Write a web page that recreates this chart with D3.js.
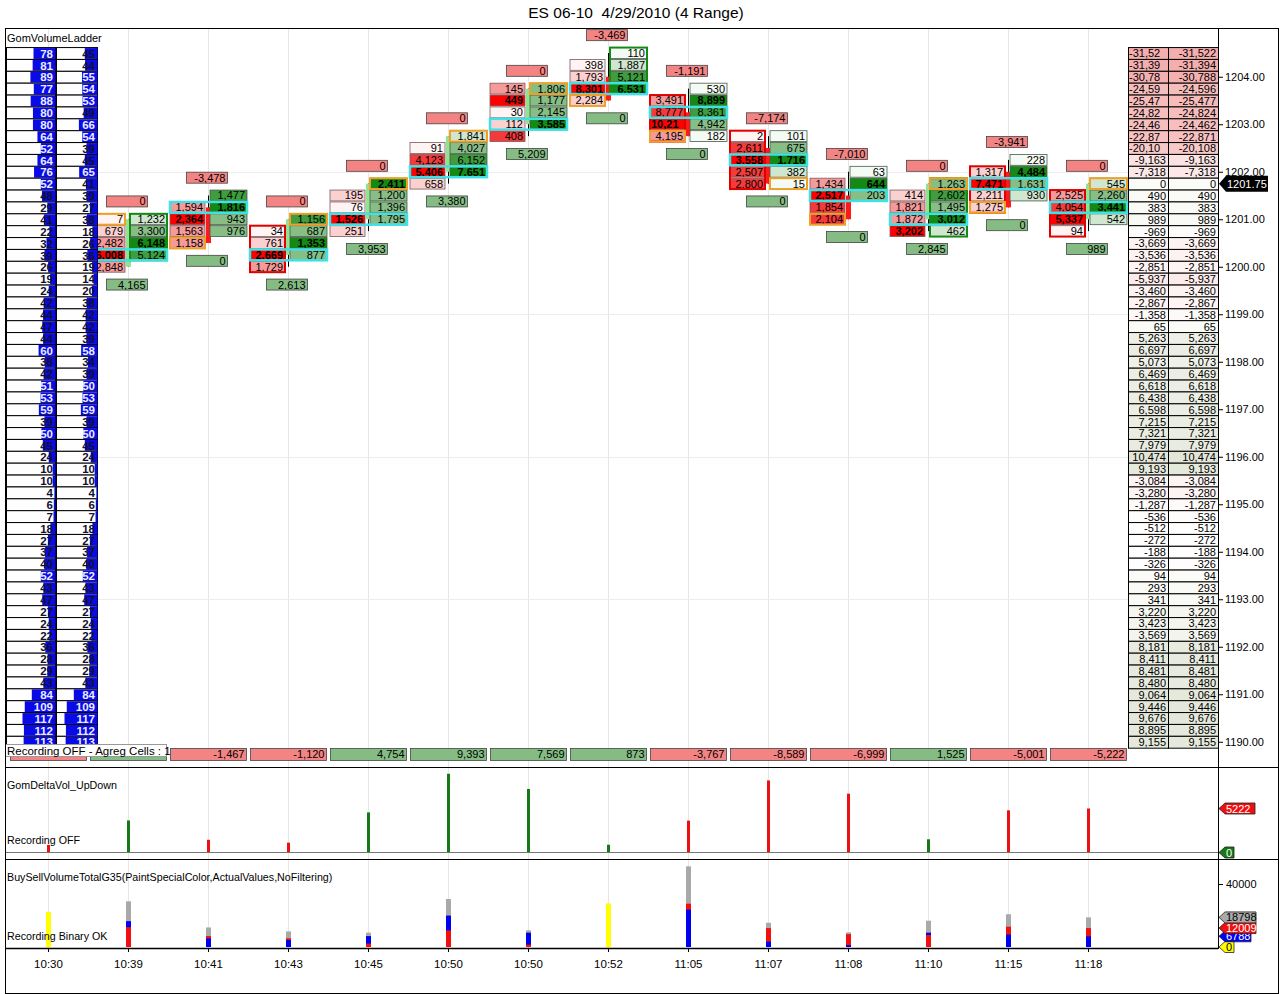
<!DOCTYPE html>
<html>
<head>
<meta charset="utf-8">
<script src="https://cdn.jsdelivr.net/npm/d3@7"></script>
<style>
  body { margin: 0; background: #fff; }
  svg text { font-family: Arial, "Liberation Sans", sans-serif; }
</style>
</head>
<body>
<svg id="chart" width="1280" height="994"></svg>
<script>
// ---- data ----
const times = ["10:30","10:39","10:41","10:43","10:45","10:50","10:50","10:52","11:05","11:07","11:08","11:10","11:15","11:18"];
const barDelta = [-850, 3790, -1467, -1120, 4754, 9393, 7569, 873, -3767, -8589, -6999, 1525, -5001, -5222];
const totalVol = [22200, 29000, 12410, 9900, 9100, 30500, 10600, 27700, 51200, 15400, 9300, 16700, 20800, 18798];
const buyVol  = [10680, 16400, 5470, 4390, 6930, 19950, 9100, 14290, 23700, 3400, 1150, 9100, 7900, 6788];
const sellVol = [11520, 12600, 6940, 5510, 2170, 10550, 1500, 13410, 27500, 12000, 8150, 7600, 12900, 12009];

// footprint cells, listed from the top price down
const askTop = [null, 1201.00, 1201.50, 1201.00, 1201.75, 1202.75, 1203.75, 1204.50, 1203.75, 1202.75, 1202.00, 1201.75, 1202.25, 1201.75];
const askVol = [
  [], [1232, 3300, 6148, 5124], [1477, 1816, 943, 976], [1156, 687, 1353, 877], [2411, 1200, 1396, 1795],
  [1841, 4027, 6152, 7651], [1806, 1177, 2145, 3585], [110, 1887, 5121, 6531], [530, 8899, 8361, 4942, 182],
  [101, 675, 1716, 382, 15], [63, 644, 203], [1263, 2602, 1495, 3012, 462], [228, 4484, 1631, 930], [545, 2260, 3441, 542]
];
const bidTop = [null, 1201.00, 1201.25, 1200.75, 1201.50, 1202.50, 1203.75, 1204.25, 1203.50, 1202.75, 1201.75, 1201.50, 1202.00, 1201.50];
const bidVol = [
  [], [7, 679, 2482, 6008, 2848], [1594, 2364, 1563, 1158], [34, 761, 2669, 1729], [195, 76, 1526, 251],
  [91, 4123, 5406, 658], [145, 449, 30, 112, 408], [398, 1793, 8301, 2284], [3491, 8777, 10215, 4195],
  [2, 2611, 3558, 2507, 2800], [1434, 2517, 1854, 2104], [414, 1821, 1872, 3202], [1317, 7471, 2211, 1275], [2525, 4054, 5337, 94]
];
const opens  = [null, 1200.00, 1201.25, 1200.25, 1201.00, 1202.00, 1203.00, 1204.00, 1203.25, 1202.50, 1201.50, 1201.00, 1202.00, 1201.00];
const closes = [null, 1201.00, 1200.50, 1201.00, 1201.75, 1202.75, 1203.75, 1203.50, 1202.75, 1201.75, 1201.00, 1201.75, 1201.25, 1201.75];
const closeSide = ["", "bid", "bid", "ask", "ask", "ask", "ask", "bid", "bid", "ask", "bid", "ask", "bid", "ask"];
const framed = ["", "ask", "", "bid", "", "", "", "ask", "bid", "bid", "", "ask", "bid", "bid"];
const topBox    = [null, 0, -3478, 0, 0, 0, 0, -3469, -1191, -7174, -7010, 0, -3941, 0];
const bottomBox = [null, 4165, 0, 2613, 3953, 3380, 5209, 0, 0, 0, 0, 2845, 0, 989];

// volume ladder (left) and delta ladder (right), from 1204.50 down to 1190.00
const ladderTopPrice = 1204.50;
const tick = 0.25;
const ladderSell = [78,81,89,77,88,80,80,64,52,64,76,52,48,29,41,22,32,39,26,19,24,42,44,47,44,60,38,42,51,
  53,59,39,50,45,24,10,10,4,6,7,18,27,37,40,52,43,47,27,24,22,36,28,29,43,84,109,117,112,113];
const ladderBuy = [45,44,55,54,53,49,66,54,39,45,65,41,39,27,38,18,26,36,19,14,20,38,42,42,39,58,34,39,50,
  53,59,39,50,45,24,10,10,4,6,7,18,27,37,40,52,43,47,27,24,22,36,28,29,43,84,109,117,112,113];
const ladderDelta = [-31522,-31394,-30788,-24596,-25477,-24824,-24462,-22871,-20108,-9163,-7318,0,490,383,989,
  -969,-3669,-3536,-2851,-5937,-3460,-2867,-1358,65,5263,6697,5073,6469,6618,6438,6598,7215,7321,7979,10474,
  9193,-3084,-3280,-1287,-536,-512,-272,-188,-326,94,293,341,3220,3423,3569,8181,8411,8481,8480,9064,9446,9676,8895,9155];
const priceTicks = [1190,1191,1192,1193,1194,1195,1196,1197,1198,1199,1200,1201,1202,1203,1204];
const gridPrices = [1202, 1199, 1196, 1193];

// ---- setup ----
const loc = d3.formatLocale({decimal: ".", thousands: ",", grouping: [3], currency: ["", ""], minus: "-"});
const fmt = loc.format(",");
const svg = d3.select("#chart");

const x = d3.scalePoint().domain(d3.range(times.length)).range([48, 1088]);
const y = d3.scaleLinear().domain([1190, 1204.5]).range([741.75, 53]);
const rowH = y(1204.25) - y(1204.5);
const y2 = d3.scaleLinear().domain([0, 10000]).range([852, 768.7]);
const y3 = d3.scaleLinear().domain([0, 40000]).range([947, 884]);

const axisX = 1218;
const labelCover = 167; // right edge of the "Recording OFF" label

// text inside a box, right aligned; too-long text starts at the left edge and loses its tail
function cellText(parent, x0, y0, w, h, str, bold, color, size) {
  const s = parent.append("svg").attr("x", x0).attr("y", y0).attr("width", w).attr("height", h);
  const t = s.append("text").attr("y", h / 2).attr("dy", "0.36em")
    .attr("font-size", size || 11).attr("font-weight", bold ? "bold" : "normal")
    .attr("fill", color || "#000").text(str);
  if (t.node().getComputedTextLength() > w - 5) {
    let cut = str;
    while (cut.length > 1 && t.node().getComputedTextLength() > w - 4) {
      cut = cut.slice(0, -1);
      t.text(cut);
    }
    t.attr("x", 1).attr("text-anchor", "start");
  } else t.attr("x", w - 2).attr("text-anchor", "end");
}

function askColor(r) {
  if (r >= 1) return "#138a13";
  if (r >= 0.75) return "#3f9c3f";
  if (r >= 0.3) return "#86be86";
  if (r >= 0.12) return "#cfe6cf";
  return "#f4faf4";
}
function bidColor(r) {
  if (r >= 1) return "#ff0000";
  if (r >= 0.7) return "#f43a3a";
  if (r >= 0.3) return "#f59a9a";
  if (r >= 0.1) return "#fbd0d0";
  return "#fff3f3";
}

// title
svg.append("text").attr("x", 636).attr("y", 18).attr("text-anchor", "middle")
  .attr("font-size", 15.5).style("white-space", "pre").text("ES 06-10  4/29/2010 (4 Range)");

// grid lines
const grid = svg.append("g");
grid.selectAll("line.v").data(d3.range(times.length)).join("line")
  .attr("x1", d => x(d) + 0.5).attr("x2", d => x(d) + 0.5).attr("y1", 29).attr("y2", 948)
  .attr("stroke", "#e6e6e6");
grid.selectAll("line.h").data(gridPrices).join("line")
  .attr("x1", 5).attr("x2", 1128).attr("y1", d => Math.round(y(d)) + 0.5).attr("y2", d => Math.round(y(d)) + 0.5)
  .attr("stroke", "#ececec");

// ---- panel 1 ----
svg.append("defs").append("clipPath").attr("id", "p1clip")
  .append("rect").attr("x", 5).attr("y", 29).attr("width", axisX - 5).attr("height", 738);
const p1 = svg.append("g").attr("clip-path", "url(#p1clip)");

const fp = p1.append("g");
times.forEach((t, i) => {
  if (askTop[i] === null) return;
  const c = x(i);
  const asks = askVol[i].map((v, k) => ({p: askTop[i] - k * tick, v}));
  const bids = bidVol[i].map((v, k) => ({p: bidTop[i] - k * tick, v}));
  const high = Math.max(askTop[i], bidTop[i]);
  const low = Math.min(asks[asks.length - 1].p, bids[bids.length - 1].p);
  const g = fp.append("g");

  // wick and body
  g.append("line").attr("x1", c + 0.5).attr("x2", c + 0.5).attr("y1", y(high)).attr("y2", y(low))
    .attr("stroke", "#000");
  const up = closes[i] > opens[i];
  g.append("rect").attr("x", c - 2).attr("width", 5)
    .attr("y", y(Math.max(opens[i], closes[i]))).attr("height", Math.abs(y(opens[i]) - y(closes[i])))
    .attr("fill", up ? "#90e490" : "#ff1a1a");

  const aMax = d3.max(askVol[i]), bMax = d3.max(bidVol[i]);
  asks.forEach(d => {
    const r = d.v / aMax;
    g.append("rect").attr("x", c + 2).attr("y", y(d.p) - rowH / 2 + 0.5).attr("width", 37).attr("height", rowH - 1)
      .attr("fill", askColor(r)).attr("stroke", "#4a5a4a").attr("stroke-width", 0.8);
    cellText(g, c + 2, y(d.p) - rowH / 2 + 0.5, 37, rowH - 1, fmt(d.v), r >= 1);
  });
  bids.forEach(d => {
    const r = d.v / bMax;
    g.append("rect").attr("x", c - 38).attr("y", y(d.p) - rowH / 2 + 0.5).attr("width", 35).attr("height", rowH - 1)
      .attr("fill", bidColor(r)).attr("stroke", "#7a5a5a").attr("stroke-width", 0.8);
    cellText(g, c - 38, y(d.p) - rowH / 2 + 0.5, 35, rowH - 1, fmt(d.v), r >= 1);
  });

  // column frame
  if (framed[i]) {
    const col = framed[i] === "ask" ? asks : bids;
    g.append("rect").attr("x", framed[i] === "ask" ? c + 2 : c - 38)
      .attr("width", framed[i] === "ask" ? 37 : 35)
      .attr("y", y(col[0].p) - rowH / 2 + 0.5).attr("height", col.length * rowH - 1)
      .attr("fill", "none").attr("stroke", framed[i] === "ask" ? "#138a13" : "#e00000").attr("stroke-width", 2);
  }

  // point of control: row with largest bid+ask
  const byPrice = d3.rollup(asks.concat(bids), v => d3.sum(v, d => d.v), d => d.p);
  const poc = d3.greatest(Array.from(byPrice), d => d[1])[0];
  g.append("rect").attr("x", c - 38).attr("width", 77)
    .attr("y", y(poc) - rowH / 2 + 0.5).attr("height", rowH - 1)
    .attr("fill", "none").attr("stroke", "#3fe0e6").attr("stroke-width", 2.5);

  // close cell
  g.append("rect").attr("x", closeSide[i] === "ask" ? c + 2 : c - 38)
    .attr("width", closeSide[i] === "ask" ? 37 : 35)
    .attr("y", y(closes[i]) - rowH / 2 + 0.5).attr("height", rowH - 1)
    .attr("fill", "none").attr("stroke", "#f0a028").attr("stroke-width", 2);

  // delta boxes above and below
  const tb = y(high) - 1.5 * rowH, bb = y(low) + 1.5 * rowH;
  g.append("rect").attr("x", c - 21.5).attr("y", tb - 5.5).attr("width", 41).attr("height", 11)
    .attr("fill", "#f48484").attr("stroke", "#444").attr("stroke-width", 0.8);
  cellText(g, c - 21.5, tb - 5.5, 41, 11, fmt(topBox[i]), false);
  g.append("rect").attr("x", c - 21.5).attr("y", bb - 5.5).attr("width", 41).attr("height", 11)
    .attr("fill", "#84bc84").attr("stroke", "#444").attr("stroke-width", 0.8);
  cellText(g, c - 21.5, bb - 5.5, 41, 11, fmt(bottomBox[i]), false);
});

// left volume ladder
const volW = d3.scaleLinear().domain([0, 117]).range([0, 33]);
const lad = p1.append("g");
ladderSell.forEach((v, k) => {
  const p = ladderTopPrice - k * tick;
  const yt = y(p) - rowH / 2;
  [[6, 49, v], [56, 41, ladderBuy[k]]].forEach(([x0, w, val]) => {
    lad.append("rect").attr("x", x0 + 0.5).attr("y", yt + 0.5).attr("width", w).attr("height", rowH)
      .attr("fill", "#fffefe").attr("stroke", "#000").attr("stroke-width", 1);
    const bw = Math.min(volW(val), w);
    lad.append("rect").attr("x", x0 + w - bw + 0.5).attr("y", yt + 1).attr("width", bw).attr("height", rowH - 1)
      .attr("fill", "#0a0ae6");
    cellText(lad, x0, yt, w, rowH + 1, String(val), true, val >= 50 ? "#e8ecff" : "#101030", 11.5);
  });
});
p1.append("text").attr("x", 7).attr("y", 42).attr("font-size", 11).text("GomVolumeLadder");

// right delta ladder
const negC = d3.interpolateRgb("#ffffff", "#f4aeae");
const posC = d3.interpolateRgb("#fbfbf8", "#e2e6d8");
const maxNeg = -d3.min(ladderDelta), maxPos = d3.max(ladderDelta);
const rl = svg.append("g");
ladderDelta.forEach((v, k) => {
  const p = ladderTopPrice - k * tick;
  const yt = y(p) - rowH / 2;
  const fill = v < 0 ? negC(Math.pow(-v / maxNeg, 0.85)) : posC(v / maxPos);
  [[1128, 40], [1168, 50]].forEach(([x0, w]) => {
    rl.append("rect").attr("x", x0 + 0.5).attr("y", yt + 0.5).attr("width", w).attr("height", rowH)
      .attr("fill", fill).attr("stroke", "#000").attr("stroke-width", 1);
    cellText(rl, x0, yt, w, rowH + 1, fmt(v), false, "#000", 11);
  });
});

// bar delta row at the bottom of panel 1 (the first two sit under the recording label)
const dr = p1.append("g");
times.forEach((t, i) => {
  const c = x(i);
  dr.append("rect").attr("x", c - 37.5).attr("y", 748.5).attr("width", 76).attr("height", 12)
    .attr("fill", barDelta[i] < 0 ? "#f48484" : "#84bc84").attr("stroke", "#444").attr("stroke-width", 0.8);
  if (c + 38 > labelCover) cellText(dr, c - 37.5, 748.5, 76, 12, fmt(barDelta[i]), false);
});
p1.append("rect").attr("x", 5.5).attr("y", 744.5).attr("width", labelCover - 6).attr("height", 12)
  .attr("fill", "#fff").attr("stroke", "#999");
p1.append("text").attr("x", 7).attr("y", 754.5).attr("font-size", 11.5).text("Recording OFF - Agreg Cells : 1");

// price axis
const pa = svg.append("g").attr("transform", `translate(${axisX},0)`)
  .call(d3.axisRight(y).tickValues(priceTicks).tickFormat(d3.format(".2f")).tickSize(5).tickPadding(2));
pa.select(".domain").remove();
pa.selectAll("text").attr("font-size", 11).attr("font-family", "Arial, 'Liberation Sans', sans-serif");

// last price marker
const lp = closes[closes.length - 1], lpy = y(lp);
svg.append("path")
  .attr("d", `M${axisX + 1},${lpy} L${axisX + 8},${lpy - 8} L1268,${lpy - 8} L1268,${lpy + 8} L${axisX + 8},${lpy + 8} Z`)
  .attr("fill", "#000");
svg.append("text").attr("x", axisX + 9).attr("y", lpy + 4).attr("font-size", 11).attr("fill", "#fff")
  .text(d3.format(".2f")(lp));

// value tags on the price scale
function tag(yv, label, fill, color, w) {
  svg.append("path")
    .attr("d", `M${axisX + 1},${yv} L${axisX + 7},${yv - 5.5} L${axisX + 7 + w},${yv - 5.5} L${axisX + 7 + w},${yv + 5.5} L${axisX + 7},${yv + 5.5} Z`)
    .attr("fill", fill).attr("stroke", "#222").attr("stroke-width", 0.8);
  svg.append("text").attr("x", axisX + 8).attr("y", yv + 4).attr("font-size", 11).attr("fill", color).text(label);
}

// ---- panel 2: delta up/down ----
const p2 = svg.append("g");
p2.append("line").attr("x1", 5).attr("x2", axisX).attr("y1", 852.5).attr("y2", 852.5).attr("stroke", "#777");
p2.selectAll("rect").data(d3.range(times.length)).join("rect")
  .attr("x", d => x(d) - 1).attr("width", 3)
  .attr("y", d => y2(Math.abs(barDelta[d]))).attr("height", d => 852 - y2(Math.abs(barDelta[d])))
  .attr("fill", d => barDelta[d] < 0 ? "#ec1010" : "#167816");
p2.append("text").attr("x", 7).attr("y", 789).attr("font-size", 10.7).text("GomDeltaVol_UpDown");
p2.append("text").attr("x", 7).attr("y", 844).attr("font-size", 10.7).text("Recording OFF");
const lastD = barDelta[barDelta.length - 1];
tag(y2(Math.abs(lastD)), String(Math.abs(lastD)), "#ec1010", "#fff", 30);
tag(y2(0) + 0.5, "0", "#167816", "#fff", 9);

// ---- panel 3: buy/sell volume ----
const p3 = svg.append("g");
times.forEach((t, i) => {
  const c = x(i), b = buyVol[i], s = sellVol[i], tot = totalVol[i];
  const bar = (v, col) => p3.append("rect").attr("x", c - 2).attr("width", 5)
    .attr("y", y3(v)).attr("height", 947 - y3(v)).attr("fill", col);
  if (Math.abs(b - s) / tot < 0.05) { bar(tot, "#ffff00"); return; }
  bar(tot, "#a9a9a9");
  if (s > b) { bar(s, "#f01010"); bar(b, "#0000f0"); }
  else { bar(b, "#0000f0"); bar(s, "#f01010"); }
});
p3.append("text").attr("x", 7).attr("y", 881).attr("font-size", 10.7)
  .text("BuySellVolumeTotalG35(PaintSpecialColor,ActualValues,NoFiltering)");
p3.append("text").attr("x", 7).attr("y", 940).attr("font-size", 10.7).text("Recording Binary OK");
const va = svg.append("g").attr("transform", `translate(${axisX},0)`)
  .call(d3.axisRight(y3).tickValues([40000]).tickFormat(d3.format("d")).tickSize(5).tickPadding(3));
va.select(".domain").remove();
va.selectAll("text").attr("font-size", 11).attr("font-family", "Arial, 'Liberation Sans', sans-serif");
const last = times.length - 1;
tag(y3(0), "0", "#ffff00", "#000", 9);
tag(y3(buyVol[last]), String(buyVol[last]), "#0000f0", "#fff", 26);
tag(y3(sellVol[last]), String(sellVol[last]), "#f01010", "#fff", 31);
tag(y3(totalVol[last]), String(totalVol[last]), "#a9a9a9", "#000", 31);

// time axis
const xa = svg.append("g").attr("transform", "translate(0,948)")
  .call(d3.axisBottom(x).tickFormat(d => times[d]).tickSize(4).tickPadding(8));
xa.select(".domain").remove();
xa.selectAll("text").attr("font-size", 11.5).attr("font-family", "Arial, 'Liberation Sans', sans-serif");
svg.append("line").attr("x1", 5).attr("x2", axisX).attr("y1", 948.5).attr("y2", 948.5)
  .attr("stroke", "#000").attr("stroke-width", 1.5);

// frames
const fr = svg.append("g").attr("stroke", "#000").attr("fill", "none");
fr.append("rect").attr("x", 5.5).attr("y", 28.5).attr("width", 1273).attr("height", 965);
fr.append("line").attr("x1", 5).attr("x2", 1279).attr("y1", 767.5).attr("y2", 767.5);
fr.append("line").attr("x1", 5).attr("x2", 1279).attr("y1", 859.5).attr("y2", 859.5);
fr.append("line").attr("x1", axisX + 0.5).attr("x2", axisX + 0.5).attr("y1", 29).attr("y2", 949);
</script>
</body>
</html>
